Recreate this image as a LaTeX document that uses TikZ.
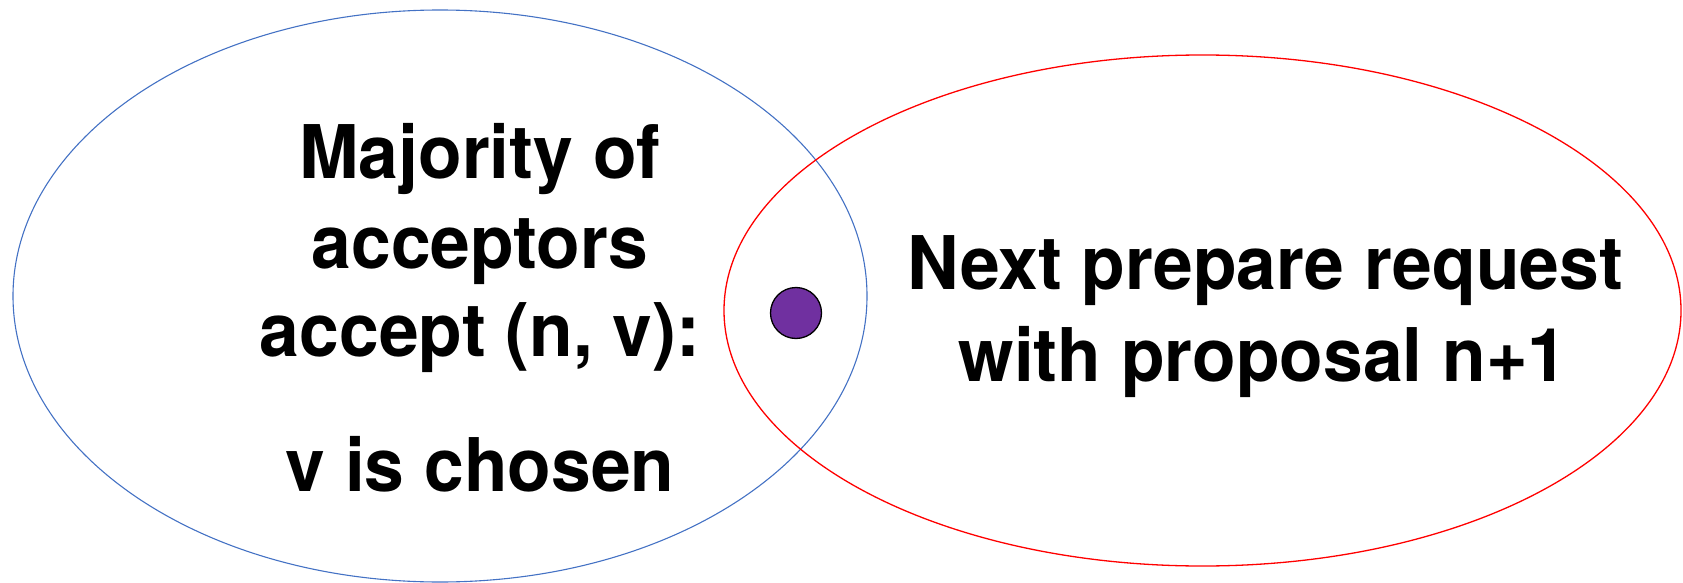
\documentclass[tikz,border=0pt]{standalone}
\usepackage{fontspec}
\setmainfont[FakeStretch=0.965]{TeX Gyre Heros}
\definecolor{setblue}{HTML}{4472C4}
\definecolor{setred}{HTML}{FF0000}
\definecolor{dotpurple}{HTML}{7030A0}
\begin{document}
\begin{tikzpicture}[x=1pt,y=-1pt,
  bigtext/.style={font=\fontsize{74}{90}\selectfont\bfseries, anchor=base, inner sep=0pt}]
\useasboundingbox (0,0) rectangle (1683,583);
\draw[setblue, line width=1.1pt] (440,296) ellipse [x radius=427, y radius=286];
\draw[setred, line width=1.3pt] (1202.5,310.5) ellipse [x radius=478.5, y radius=255.5];
\node[circle, draw=black, line width=1.3pt, fill=dotpurple, minimum size=51pt, inner sep=0pt] (dot) at (796,313) {};
\node[bigtext] (l1) at (480,178.5) {Majority of};
\node[bigtext] (l2) at (480,268) {acceptors};
\node[bigtext] (l3) at (480,356) {accept (n, v):};
\node[bigtext] (l4) at (480,491) {v is chosen};
\node[bigtext] (r1) at (1265,289) {Next prepare request};
\node[bigtext] (r2) at (1263,381) {with proposal n+1};
\end{tikzpicture}
\end{document}
